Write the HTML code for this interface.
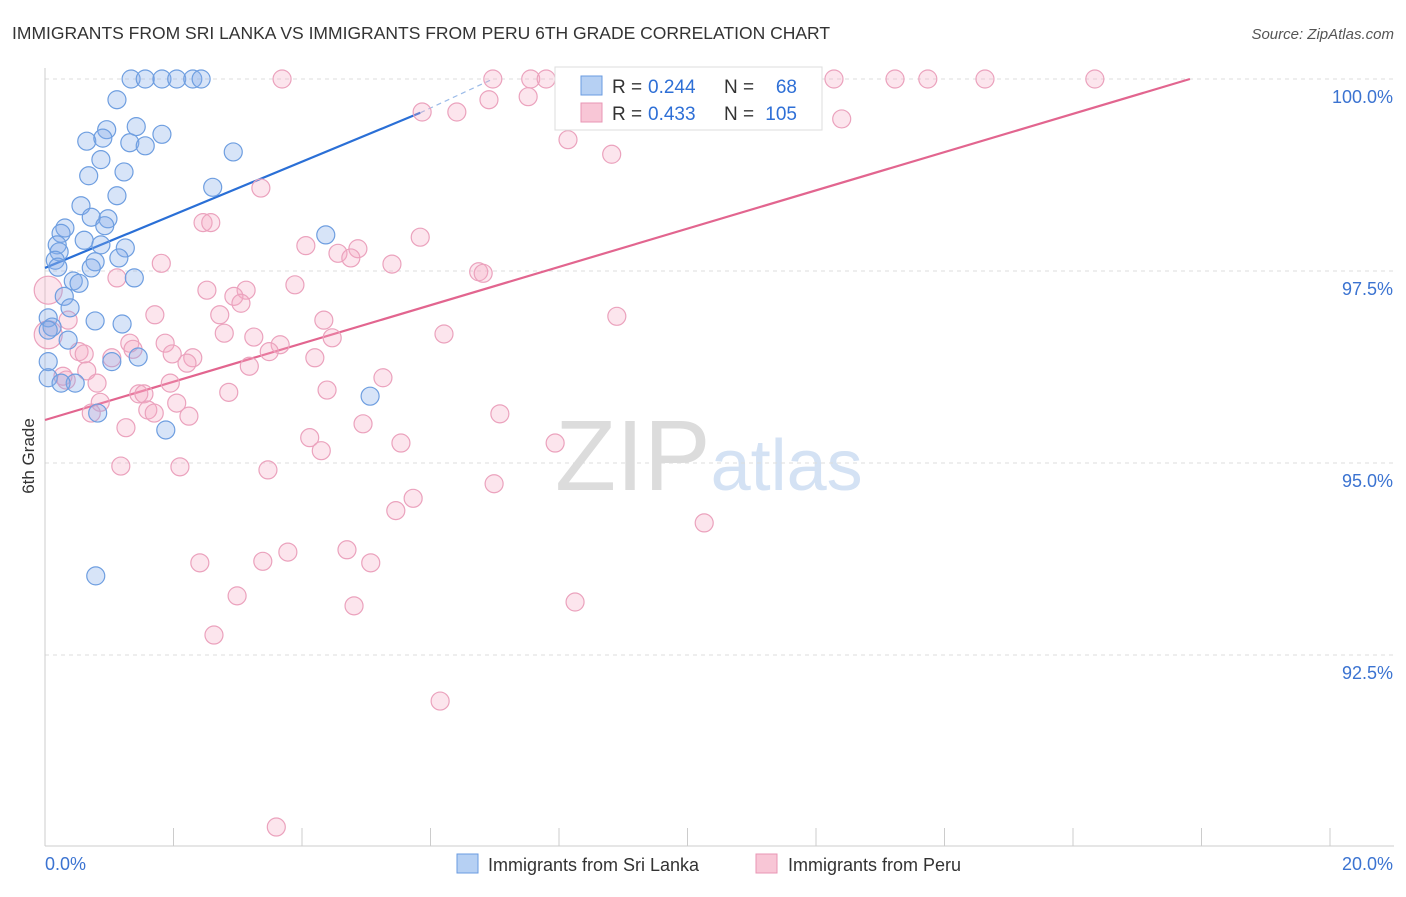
<!DOCTYPE html>
<html><head><meta charset="utf-8"><style>
body{margin:0;background:#fff;font-family:"Liberation Sans",sans-serif;}
svg text{font-family:"Liberation Sans",sans-serif;}
</style></head><body>
<svg id="chart" width="1406" height="892" xmlns="http://www.w3.org/2000/svg">
<text x="12" y="39" font-size="17.5" fill="#333">IMMIGRANTS FROM SRI LANKA VS IMMIGRANTS FROM PERU 6TH GRADE CORRELATION CHART</text>
<text x="1394" y="39" font-size="15" fill="#555" text-anchor="end" font-style="italic">Source: ZipAtlas.com</text>
<text transform="translate(34,456) rotate(-90)" font-size="17" fill="#333" text-anchor="middle">6th Grade</text>
<text x="555" y="490" font-size="100" fill="#e4e4e4" font-family="Liberation Serif"><tspan fill="#dcdcdc">ZIP</tspan><tspan fill="#d4e2f4" font-family="Liberation Sans" font-size="72">atlas</tspan></text>
<g id="grid"></g>
<g id="axes"></g>
<g id="lines"></g>
<g id="pts"></g>
<g>
<rect x="555" y="67" width="267" height="63" fill="#fff" stroke="#ddd"/>
<rect x="581" y="76" width="21" height="19" fill="#b6d0f3" stroke="#6a9be0"/>
<rect x="581" y="103" width="21" height="19" fill="#f8c6d6" stroke="#e896b4"/>
<text x="612" y="93" font-size="19" fill="#333">R =</text>
<text x="648" y="93" font-size="19" fill="#2e6fd6">0.244</text>
<text x="724" y="93" font-size="19" fill="#333">N =</text>
<text x="797" y="93" font-size="19" fill="#2e6fd6" text-anchor="end">68</text>
<text x="612" y="120" font-size="19" fill="#333">R =</text>
<text x="648" y="120" font-size="19" fill="#2e6fd6">0.433</text>
<text x="724" y="120" font-size="19" fill="#333">N =</text>
<text x="797" y="120" font-size="19" fill="#2e6fd6" text-anchor="end">105</text>
</g>
<g>
<rect x="457" y="854" width="21" height="19" fill="#b6d0f3" stroke="#6a9be0"/>
<text x="488" y="871" font-size="18" fill="#333">Immigrants from Sri Lanka</text>
<rect x="756" y="854" width="21" height="19" fill="#f8c6d6" stroke="#e896b4"/>
<text x="788" y="871" font-size="18" fill="#333">Immigrants from Peru</text>
</g>
</svg>
<script>
const yTicks=[100,97.5,95,92.5];
const yTickLabels=["100.0%","97.5%","95.0%","92.5%"];
const xTickVals=[0,2,4,6,8,10,12,14,16,18,20];
const xEndLabels=["0.0%","20.0%"];
const blueX=[1.34,1.56,1.82,2.05,2.30,2.43,1.12,0.96,1.42,0.65,0.90,1.32,1.56,1.82,0.87,2.93,0.68,1.23,2.61,1.12,0.56,0.72,0.98,0.93,0.31,0.25,0.61,0.19,0.87,1.25,0.22,1.15,0.16,0.78,0.72,0.20,1.39,0.44,0.53,0.30,0.05,0.39,0.78,1.20,0.11,0.36,0.05,1.45,1.04,0.05,0.05,0.47,0.25,5.06,0.82,1.88,0.79,4.37];
const blueY=[100,100,100,100,100,100,99.73,99.34,99.38,99.19,99.23,99.17,99.13,99.28,98.95,99.05,98.74,98.79,98.59,98.48,98.35,98.20,98.18,98.09,98.06,97.99,97.90,97.84,97.84,97.80,97.75,97.67,97.64,97.62,97.54,97.55,97.41,97.37,97.34,97.17,96.89,97.02,96.85,96.81,96.77,96.60,96.73,96.38,96.32,96.32,96.11,96.04,96.04,95.87,95.65,95.43,93.53,97.97];
const pinkX=[3.69,6.97,7.56,7.80,12.28,13.23,13.74,14.63,16.34,6.91,7.52,5.87,6.41,12.40,8.14,8.82,3.36,2.46,2.58,5.84,4.06,4.56,4.87,4.76,5.40,1.81,6.75,6.82,1.12,2.52,3.13,3.89,2.94,3.05,1.71,2.72,4.34,8.90,0.36,2.79,3.25,6.21,4.47,1.87,3.66,1.32,1.37,3.49,0.53,0.61,1.04,2.30,1.98,4.20,3.18,2.21,0.65,0.28,0.33,0.81,5.26,1.95,2.86,4.39,1.46,1.54,0.86,2.05,0.72,1.60,2.24,1.70,7.08,4.95,1.26,7.94,4.12,5.54,4.30,1.18,2.10,3.47,6.99,5.73,5.46,10.26,3.78,4.70,2.41,3.39,5.07,2.99,8.25,4.81,2.63,6.15,3.60,0.05,0.05];
const pinkY=[100,100,100,100,100,100,100,100,100,99.73,99.77,99.57,99.57,99.48,99.21,99.02,98.58,98.13,98.13,97.94,97.83,97.73,97.79,97.67,97.59,97.60,97.49,97.47,97.41,97.25,97.25,97.32,97.17,97.08,96.93,96.93,96.86,96.91,96.86,96.69,96.64,96.68,96.63,96.56,96.54,96.56,96.48,96.45,96.45,96.42,96.37,96.37,96.42,96.37,96.26,96.30,96.20,96.13,96.08,96.04,96.11,96.04,95.92,95.95,95.90,95.90,95.79,95.78,95.65,95.69,95.61,95.65,95.64,95.51,95.46,95.26,95.33,95.26,95.16,94.96,94.95,94.91,94.73,94.54,94.38,94.22,93.84,93.87,93.70,93.72,93.70,93.27,93.19,93.14,92.76,91.90,90.26,97.25,96.67];
const blueTrend=[0,97.54,5.84,99.56,6.97,100];
const pinkTrend=[0,95.56,17.82,100];

const NS="http://www.w3.org/2000/svg";
const X=v=>45+v*64.25;
const Y=v=>79+(100-v)*76.8;
function mk(tag,attrs,parent){const e=document.createElementNS(NS,tag);for(const k in attrs)e.setAttribute(k,attrs[k]);parent.appendChild(e);return e;}
const grid=document.getElementById('grid'),axes=document.getElementById('axes');
yTicks.forEach((t,i)=>{
  const l=mk('line',{x1:45,x2:1394,y1:Y(t),y2:Y(t),stroke:'#ddd','stroke-dasharray':'4,4'},grid);
  
  
  const tx=mk('text',{x:1393,y:Y(t)+24,'font-size':18,fill:'#3b73d1','text-anchor':'end'},axes);
  tx.textContent=yTickLabels[i];
  
  
});
mk('line',{x1:45,x2:45,y1:68,y2:846,stroke:'#ccc'},axes);
mk('line',{x1:45,x2:1394,y1:846,y2:846,stroke:'#ccc'},axes);
xTickVals.forEach(v=>{
  const t=mk('line',{x1:X(v),x2:X(v),y1:828,y2:846,stroke:'#ccc'},axes);
  
  
});
const l0=mk('text',{x:45,y:870,'font-size':18,fill:'#3b73d1'},axes);l0.textContent=xEndLabels[0];


const l1=mk('text',{x:1393,y:870,'font-size':18,fill:'#3b73d1','text-anchor':'end'},axes);l1.textContent=xEndLabels[1];



const pts=document.getElementById('pts');
pinkX.forEach((x,i)=>{
  const big=i>=pinkX.length-2;
  const c=mk('circle',{cx:X(x),cy:Y(pinkY[i]),r:big?14:9,fill:'rgba(244,170,196,0.3)',stroke:'#eba2bd','stroke-width':1.2},pts);
  
  
});
blueX.forEach((x,i)=>{
  const c=mk('circle',{cx:X(x),cy:Y(blueY[i]),r:9,fill:'rgba(130,170,232,0.32)',stroke:'#6e9ee0','stroke-width':1.2},pts);
  
  
});
const lines=document.getElementById('lines');
const bl=mk('line',{x1:X(blueTrend[0]),y1:Y(blueTrend[1]),x2:X(blueTrend[2]),y2:Y(blueTrend[3]),stroke:'#2a6fd6','stroke-width':2.2},lines);


const bd=mk('line',{x1:X(blueTrend[2]),y1:Y(blueTrend[3]),x2:X(blueTrend[4]),y2:Y(blueTrend[5]),stroke:'#9bbbe8','stroke-width':1.2,'stroke-dasharray':'5,4'},lines);


const pl=mk('line',{x1:X(pinkTrend[0]),y1:Y(pinkTrend[1]),x2:X(pinkTrend[2]),y2:Y(pinkTrend[3]),stroke:'#e2658f','stroke-width':2.2},lines);


</script>
</body></html>
